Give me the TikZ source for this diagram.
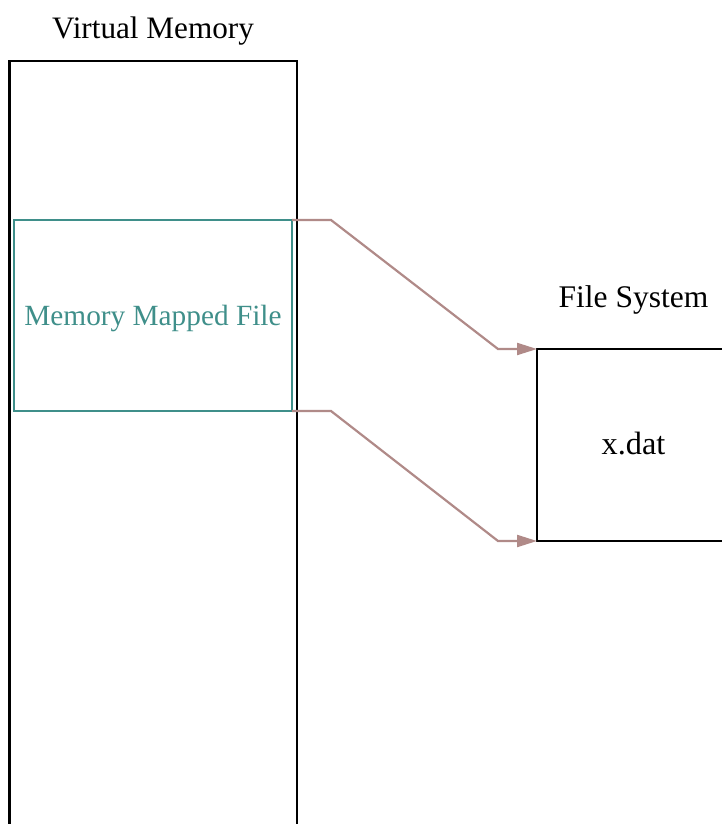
\documentclass[tikz,border=0pt]{standalone}
\usepackage{fontspec}
\setmainfont{Liberation Serif}
\usetikzlibrary{arrows.meta}
\definecolor{mapteal}{HTML}{3F8F8A}
\definecolor{arrowrose}{HTML}{B08A88}
\tikzset{
  box/.style={draw=black, line width=2.2pt},
  mapbox/.style={draw=mapteal, line width=2.2pt, outer sep=0pt, inner sep=0pt},
  lbl/.style={inner sep=0pt},
  link/.style={draw=arrowrose, line width=2.2pt, -{Triangle[length=20pt,width=12pt]}, line join=miter}
}
\begin{document}
\begin{tikzpicture}[x=1pt,y=-1pt]
\useasboundingbox (0,0) rectangle (722,824);
\begin{scope}
\clip (0,0) rectangle (722,824);
\draw[box] (9.5,61) rectangle (297,900);
\draw[box] (537,349) rectangle (800,541);
\end{scope}
\node[mapbox, minimum width=278pt, minimum height=191pt, anchor=north west] (mmf) at (14,220) {};
\node[lbl, text=mapteal, font=\fontsize{29.3}{35}\selectfont] (mmftext) at ([yshift=-3pt]mmf.center) {Memory Mapped File};
\coordinate (fstop) at (537,349);
\coordinate (fsbot) at (537,541);
\node[lbl, font=\fontsize{31.2}{37}\selectfont] (vm) at (153,31) {Virtual Memory};
\node[lbl, font=\fontsize{31.5}{38}\selectfont] (fs) at (633.5,300) {File System};
\node[lbl, font=\fontsize{32.3}{38}\selectfont] (xdat) at (633.5,444) {x.dat};
\draw[link] (mmf.north east) -- (331,220) -- (498,349) -- (fstop);
\draw[link] (mmf.south east) -- (331,411) -- (498,541) -- (fsbot);
\end{tikzpicture}
\end{document}
